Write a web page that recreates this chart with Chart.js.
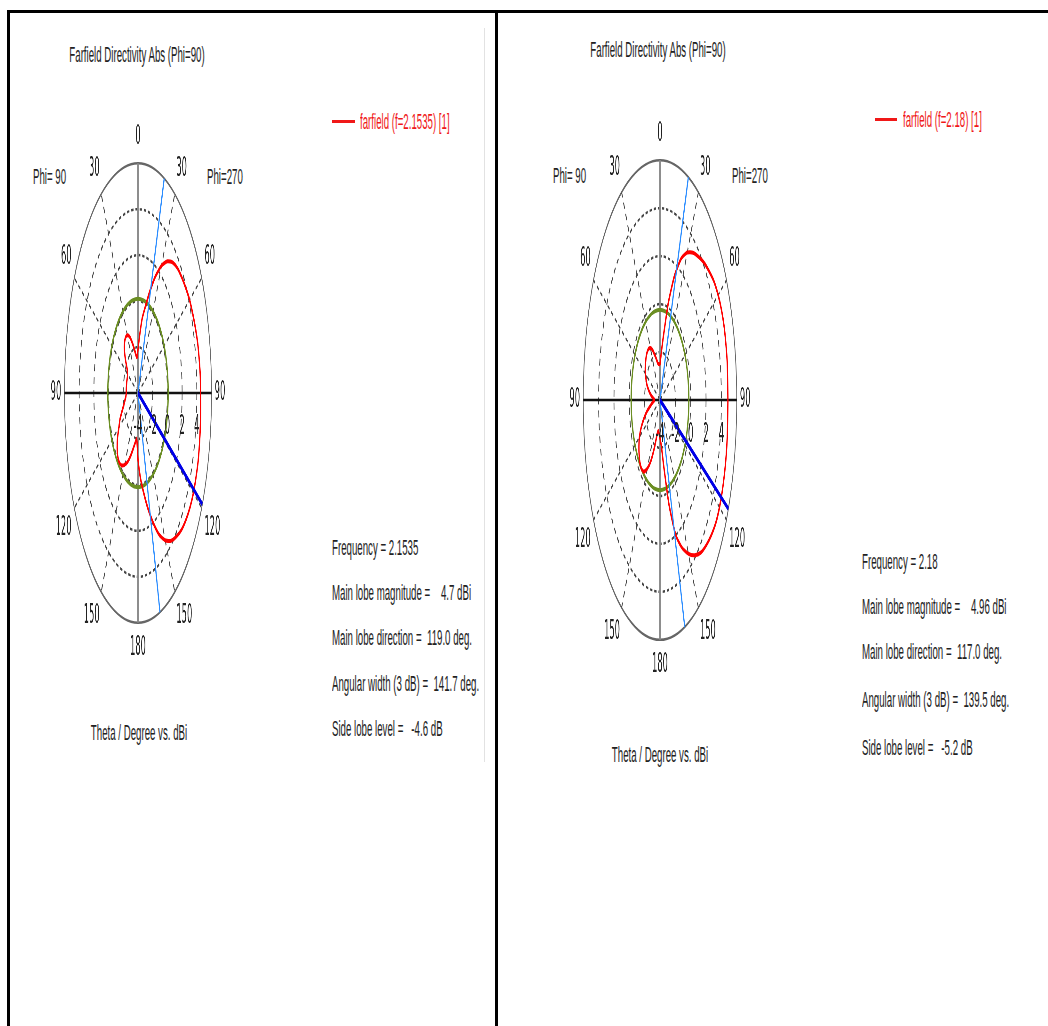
<!DOCTYPE html>
<html>
<head>
<meta charset="utf-8">
<script src="https://cdn.jsdelivr.net/npm/chart.js@4.4.0/dist/chart.umd.min.js"></script>
<style>
  html, body { margin: 0; padding: 0; overflow: hidden; }
  body { width: 1048px; height: 1026px; position: relative; background: #fff;
         font-family: "Liberation Sans", Arial, sans-serif; color: #222; }
  .rule { position: absolute; background: #000; }
  .txt { position: absolute; white-space: pre; font-size: 22px; line-height: 22px;
         transform: scaleX(0.44); transform-origin: 0 0; }
  .ctr { width: 400px; text-align: center; transform-origin: 50% 0; }
  .red { color: #f01818; }
  .chartBox { position: absolute; width: 700px; transform: scaleX(0.32); transform-origin: 0 0; }
</style>
</head>
<body>
<!-- table borders -->
<div class="rule" style="left:7px;top:10px;width:1041px;height:3px"></div>
<div class="rule" style="left:7px;top:10px;width:3px;height:1016px"></div>
<div class="rule" style="left:495px;top:10px;width:3px;height:1016px"></div>
<div class="rule" style="left:484px;top:28px;width:1px;height:734px;background:#e2e2e2"></div>

<div class="txt ctr" id="titleL" style="left:-63px;top:44px"></div>
<div class="txt ctr" id="titleR" style="left:458px;top:39px"></div>

<div class="rule" style="left:332px;top:120px;width:23px;height:3px;background:#f01818"></div>
<div class="txt red" id="legL" style="left:360px;top:111px"></div>
<div class="rule" style="left:875px;top:118px;width:22px;height:3px;background:#f01818"></div>
<div class="txt red" id="legR" style="left:903px;top:109px"></div>

<div class="txt" style="left:33px;top:166px">Phi= 90</div>
<div class="txt" style="left:207px;top:166px">Phi=270</div>
<div class="txt" style="left:553px;top:165px">Phi= 90</div>
<div class="txt" style="left:732px;top:165px">Phi=270</div>

<div class="chartBox" style="left:26px;top:123px;height:542px"><canvas id="polarL"></canvas></div>
<div class="chartBox" style="left:548px;top:120px;height:562px"><canvas id="polarR"></canvas></div>

<div class="txt ctr" style="left:-61px;top:722px">Theta / Degree vs. dBi</div>
<div class="txt ctr" style="left:460px;top:744px">Theta / Degree vs. dBi</div>

<div id="infoL"></div>
<div id="infoR"></div>

<script>
// theta around the cut: 0 at top, clockwise (right half = Phi 270, left half = Phi 90)
const thetaDeg = [
  0, 5, 10, 15, 20, 25, 30, 35, 40, 45, 50, 55,
  60, 65, 70, 75, 80, 85, 90, 95, 100, 105, 110, 115,
  120, 125, 130, 135, 140, 145, 150, 155, 160, 165, 170, 175,
  180, 185, 190, 195, 200, 205, 210, 215, 220, 225, 230, 235,
  240, 245, 250, 255, 260, 265, 270, 275, 280, 285, 290, 295,
  300, 305, 310, 315, 320, 325, 330, 335, 340, 345, 350, 355
];

// directivity in dBi, f = 2.1535
const dbiLeft = [
  -2.1, -1.5, -0.7, -0.1, 0.7, 1.6, 2.4, 3.0, 3.4, 3.65, 3.8, 3.95,
  4.1, 4.2, 4.3, 4.4, 4.45, 4.5, 4.5, 4.55, 4.6, 4.65, 4.7, 4.7,
  4.7, 4.65, 4.55, 4.4, 4.15, 3.85, 3.4, 2.8, 2.0, 1.2, 0.4, -0.3,
  -1.1, -2.0, -1.8, -1.5, -1.1, -0.7, -0.4, -0.15, -0.05, -0.1, -0.3, -0.6,
  -1.0, -1.3, -1.7, -2.0, -2.2, -2.35, -2.4, -2.4, -2.4, -2.4, -2.4, -2.4,
  -2.35, -2.2, -1.8, -1.4, -1.15, -1.05, -1.1, -1.3, -1.65, -2.0, -2.3, -2.45
];

// directivity in dBi, f = 2.18
const dbiRight = [
  -2.5, -2.0, -1.2, 0.2, 1.5, 2.5, 3.1, 3.5, 3.8, 4.1, 4.35, 4.6,
  4.75, 4.85, 4.9, 4.9, 4.9, 4.85, 4.85, 4.85, 4.9, 4.93, 4.95, 4.96,
  4.95, 4.9, 4.75, 4.55, 4.3, 3.9, 3.4, 2.8, 2.0, 0.5, -1.2, -2.1,
  -2.4, -2.6, -2.7, -2.5, -1.9, -1.2, -0.7, -0.35, -0.25, -0.3, -0.45, -0.65,
  -0.9, -1.3, -1.8, -2.3, -2.8, -3.1, -3.3, -3.1, -2.8, -2.5, -2.2, -2.0,
  -1.8, -1.65, -1.55, -1.45, -1.4, -1.4, -1.5, -1.7, -2.0, -2.25, -2.45, -2.5
];

const ringTicks = [-4, -2, 0, 2, 4];
const frequency = ["2.1535", "2.18"];
const mainLobeMag = ["4.7", "4.96"];
const mainLobeDir = [119.0, 117.0];
const angularWidth = [141.7, 139.5];
const sideLobeLevel = [-4.6, -5.2];
const beamEdges = [[20.9, 162.6], [21.7, 161.2]];

// side lobe level circle sits at main lobe magnitude + side lobe level
const sllAbs = [0, 1].map((k) => parseFloat(mainLobeMag[k]) + sideLobeLevel[k]);

const overlay = {
  id: "overlay",
  afterDatasetsDraw(chart, args, opts) {
    const r = chart.scales.r;
    const c = chart.ctx;
    const rad = (a) => (a * Math.PI) / 180;
    c.save();
    c.strokeStyle = "#2a8cff";
    c.lineWidth = 3.5;
    opts.edges.forEach((a) => {
      const p = r.getPointPosition(0, r.drawingArea, rad(a));
      c.beginPath();
      c.moveTo(r.xCenter, r.yCenter);
      c.lineTo(p.x, p.y);
      c.stroke();
    });
    const m = r.getPointPosition(0, r.drawingArea, rad(opts.dir));
    c.strokeStyle = "#0000e6";
    c.lineWidth = 5;
    c.beginPath();
    c.moveTo(r.xCenter, r.yCenter);
    c.lineTo(m.x, m.y);
    c.stroke();

    c.font = '27px "DejaVu Sans"';
    c.fillStyle = "#222";
    c.textAlign = "center";
    c.textBaseline = "middle";
    ringTicks.forEach((v) => {
      c.fillText(String(v), r.xCenter + r.getDistanceFromCenterForValue(v), r.yCenter + opts.tickOffset);
    });
    c.restore();
  },
};

function makePolar(id, values, k, tickOffset) {
  return new Chart(document.getElementById(id), {
    type: "radar",
    data: {
      labels: thetaDeg,
      datasets: [
        {
          label: "farfield",
          data: values,
          borderColor: "#ff0000",
          borderWidth: 4,
          pointRadius: 0,
          fill: false,
          tension: 0.2,
        },
        {
          label: "side lobe level",
          data: thetaDeg.map(() => sllAbs[k]),
          borderColor: "#6b8e23",
          borderWidth: 4,
          pointRadius: 0,
          fill: false,
          tension: 0.4,
        },
      ],
    },
    options: {
      responsive: true,
      maintainAspectRatio: false,
      animation: false,
      plugins: {
        legend: { display: false },
        tooltip: { enabled: false },
        overlay: { edges: beamEdges[k], dir: mainLobeDir[k], tickOffset: tickOffset },
      },
      scales: {
        r: {
          min: -4,
          max: 6,
          ticks: { display: false, stepSize: 2 },
          grid: {
            circular: true,
            color: (ctx) => (ctx.tick && ctx.tick.value === 6 ? "#666" : "#444"),
            lineWidth: 2.5,
          },
          border: {
            dash: (ctx) => (ctx.tick && ctx.tick.value === 6 ? [] : [7, 6]),
          },
          angleLines: {
            color: (ctx) => {
              const a = thetaDeg[ctx.index];
              if (a % 180 === 0) return "#8a8a8a";
              if (a % 90 === 0) return "#111";
              return "#444";
            },
            lineWidth: (ctx) => {
              const a = thetaDeg[ctx.index];
              if (a % 180 === 0) return 5;
              if (a % 90 === 0) return 2.5;
              return a % 30 === 0 ? 2.5 : 0;
            },
            borderDash: (ctx) => (thetaDeg[ctx.index] % 90 === 0 ? [] : [7, 6]),
          },
          pointLabels: {
            padding: 10,
            color: "#222",
            font: { family: "DejaVu Sans", size: 26 },
            callback: (lbl) => (lbl % 30 ? "" : String(lbl <= 180 ? lbl : 360 - lbl)),
          },
        },
      },
    },
    plugins: [overlay],
  });
}

makePolar("polarL", dbiLeft, 0, 34);
makePolar("polarR", dbiRight, 1, 35);

// titles, legends and result text
const title = "Farfield Directivity Abs (Phi=90)";
document.getElementById("titleL").textContent = title;
document.getElementById("titleR").textContent = title;
document.getElementById("legL").textContent = "farfield (f=" + frequency[0] + ") [1]";
document.getElementById("legR").textContent = "farfield (f=" + frequency[1] + ") [1]";

function writeInfo(id, k, x, tops) {
  const rows = [
    "Frequency = " + frequency[k],
    "Main lobe magnitude =    " + mainLobeMag[k] + " dBi",
    "Main lobe direction =  " + mainLobeDir[k].toFixed(1) + " deg.",
    "Angular width (3 dB) =  " + angularWidth[k].toFixed(1) + " deg.",
    "Side lobe level =   " + sideLobeLevel[k].toFixed(1) + " dB",
  ];
  const box = document.getElementById(id);
  rows.forEach((row, i) => {
    const d = document.createElement("div");
    d.className = "txt";
    d.style.left = x + "px";
    d.style.top = tops[i] + "px";
    d.textContent = row;
    box.appendChild(d);
  });
}
writeInfo("infoL", 0, 332, [537, 582, 627, 673, 718]);
writeInfo("infoR", 1, 862, [551, 596, 641, 689, 737]);
</script>
</body>
</html>
